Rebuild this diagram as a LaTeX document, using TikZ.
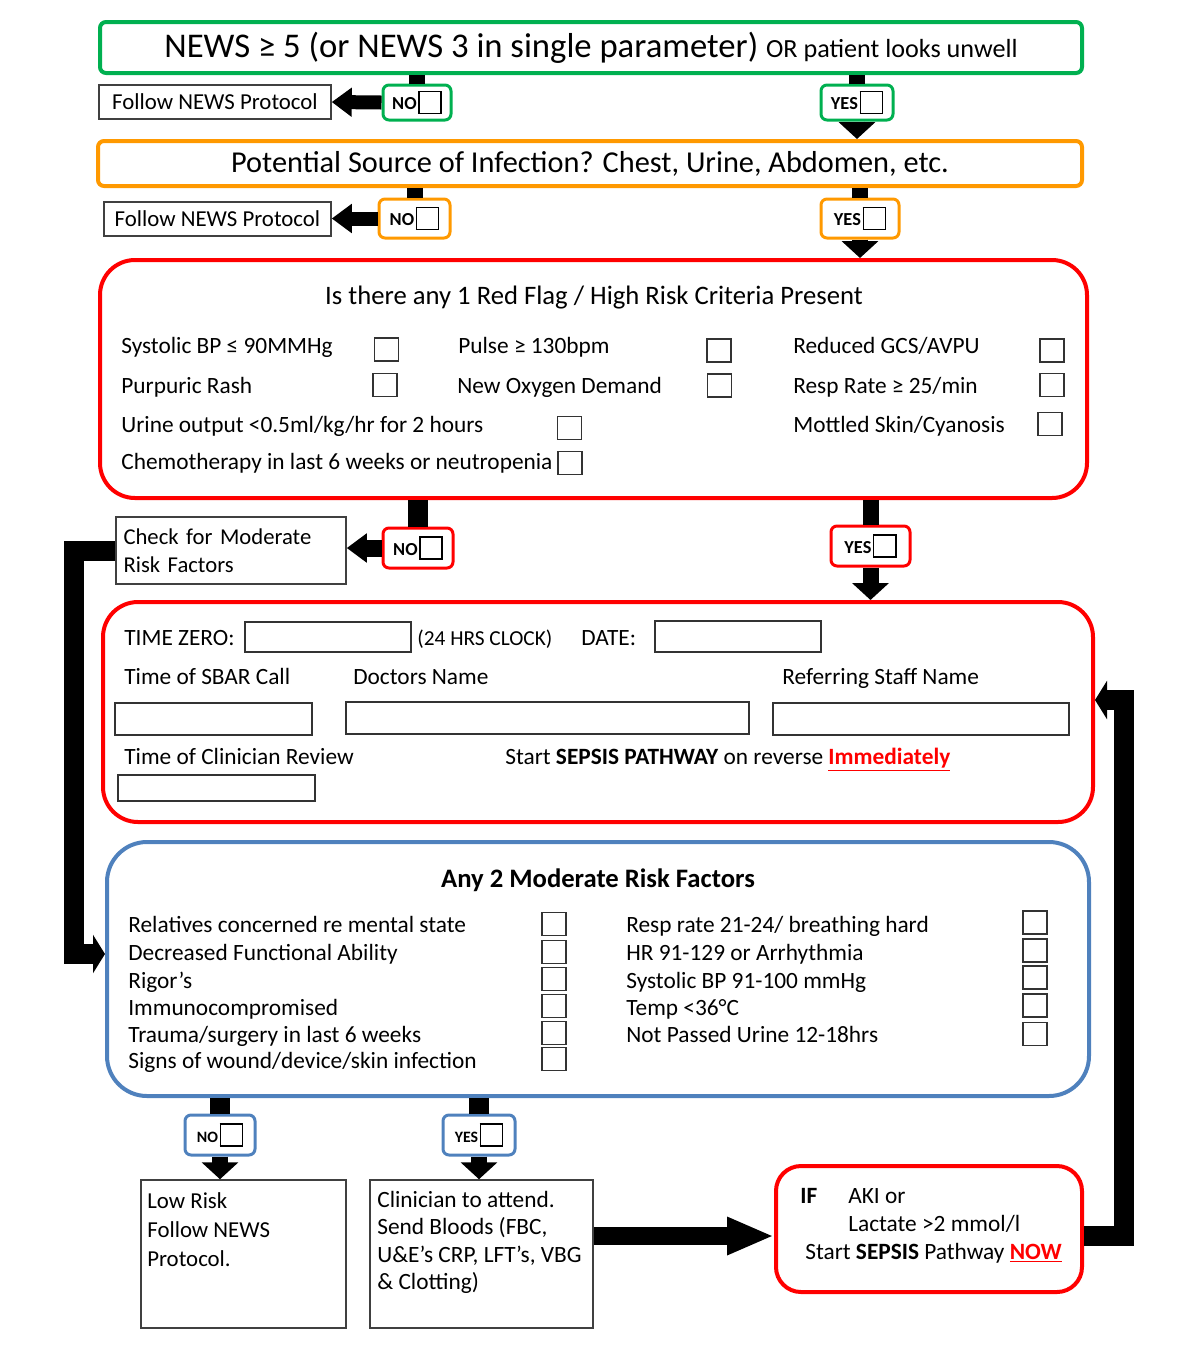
\documentclass[tikz,border=0pt]{standalone}
\usepackage{fontspec}
\setmainfont{Carlito}
\usetikzlibrary{arrows.meta, positioning}

\definecolor{newsgreen}{RGB}{0,176,80}
\definecolor{sourceorange}{RGB}{255,153,0}
\definecolor{flagred}{RGB}{255,0,0}
\definecolor{riskblue}{RGB}{79,129,189}

\newcommand{\optbox}{{\fboxsep=0pt\fboxrule=0.8pt\raisebox{-2pt}{\fbox{\rule{0pt}{12.5pt}\hspace{12.5pt}}}}}

\begin{document}
\begin{tikzpicture}[
    x=0.6pt, y=-0.6pt,
    font=\fontsize{14}{16.8}\selectfont,
    size/.style 2 args={minimum width=#1*0.6pt, minimum height=#2*0.6pt},
    panel/.style={draw=#1, line width=2.4pt, inner sep=0pt},
    tag/.style={draw=#1, line width=1.8pt, rounded corners=3.6pt, inner sep=0pt, font=\bfseries\fontsize{11}{13}\selectfont},
    plainbox/.style={draw=black!75, line width=0.9pt, inner sep=0pt},
    tick/.style={draw=black!80, line width=0.9pt, size={24}{23}, inner sep=0pt},
    field/.style={draw=black!80, line width=0.9pt, inner sep=0pt},
    item/.style={anchor=mid west, inner sep=0pt, yshift=-2pt},
    stem/.style={line width=#1},
    sidearrow/.style={line width=8.4pt, -{Triangle[length=12pt, width=16.8pt]}},
    downarrow/.style={line width=9.6pt, -{Triangle[length=10.2pt, width=21.6pt]}},
    railarrow/.style={line width=12pt, -{Triangle[length=7.2pt, width=22.8pt]}},
    bigarrow/.style={line width=10.8pt, -{Triangle[length=28.2pt, width=21pt]}}
  ]
    \useasboundingbox (0,0) rectangle (1200,1362);

    % trigger
    \node[panel=newsgreen, rounded corners=3.6pt, size={982}{51}] (news) at (591,47.5)
      {\fontsize{20.8}{24}\selectfont NEWS ≥ 5 (or NEWS 3 in single parameter) {\fontsize{15.7}{18}\selectfont OR patient looks unwell}};
    \node[tag=newsgreen, size={68}{35}] (nonews) at (417,102.5) {NO\hspace{1pt}\optbox};
    \node[tag=newsgreen, size={72}{35}] (yesnews) at (857,102.5) {YES\hspace{1pt}\optbox};
    \node[plainbox, size={232}{34}, font=\fontsize{13.7}{16}\selectfont] (follownews) at (215,102) {Follow NEWS Protocol};

    % source of infection
    \node[panel=sourceorange, rounded corners=3.6pt, size={984}{45}, font=\fontsize{18.2}{21}\selectfont] (source) at (590,163.5)
      {Potential Source of Infection? Chest, Urine, Abdomen, etc.};
    \node[tag=sourceorange, size={71}{39}] (nosource) at (414.5,218.5) {NO\hspace{1pt}\optbox};
    \node[tag=sourceorange, size={78}{39}] (yessource) at (860,218.5) {YES\hspace{1pt}\optbox};
    \node[plainbox, size={227}{34}, font=\fontsize{13.7}{16}\selectfont] (followsource) at (217.5,219) {Follow NEWS Protocol};

    % red flags
    \node[panel=flagred, rounded corners=21pt, size={987}{238}] (redflag) at (593.5,379) {};
    \node[font=\fontsize{16}{19}\selectfont] (flagtitle) at (594,298) {Is there any 1 Red Flag / High Risk Criteria Present};
    \node[item] (sbp) at (121,346) {Systolic BP ≤ 90MMHg};
    \node[item] (pulse) at (458,346) {Pulse ≥ 130bpm};
    \node[item] (gcs) at (793,346) {Reduced GCS/AVPU};
    \node[item] (rash) at (121,386) {Purpuric Rash};
    \node[item] (oxygen) at (457,386) {New Oxygen Demand};
    \node[item] (resp) at (793,386) {Resp Rate ≥ 25/min};
    \node[item] (urine) at (121,425) {Urine output <0.5ml/kg/hr for 2 hours};
    \node[item] (mottled) at (793,425) {Mottled Skin/Cyanosis};
    \node[item] (chemo) at (121,462) {Chemotherapy in last 6 weeks or neutropenia};
    \foreach \n/\x/\y in {sbpbox/386.5/349.5, pulsebox/719/350.5, gcsbox/1052/350.5,
                          rashbox/385/385, oxygenbox/719.5/385.5, respbox/1052/385,
                          urinebox/569.5/428, mottledbox/1050/424, chemobox/570/463}
      \node[tick] (\n) at (\x,\y) {};

    \node[tag=flagred, size={70}{40}] (noflag) at (418,548) {NO\hspace{1pt}\optbox};
    \node[tag=flagred, size={79}{40}] (yesflag) at (870.5,546) {YES\hspace{1pt}\optbox};
    \node[plainbox, size={230}{67}, text width=129pt, align=left, font=\fontsize{13.6}{16.8}\selectfont] (checkmod) at (231,550.5)
      {Check for Moderate\\Risk Factors};

    % time zero form
    \node[panel=flagred, rounded corners=21pt, size={990}{220}] (timezero) at (598,712) {};
    \node[item] (zerolabel) at (124,638) {TIME ZERO:};
    \node[field, size={166}{30}] (zerofield) at (328,637) {};
    \node[item, font=\fontsize{12.8}{15}\selectfont] (clock) at (417,638) {(24 HRS CLOCK)};
    \node[item] (datelabel) at (581,638) {DATE:};
    \node[field, size={166}{31}] (datefield) at (738,636.5) {};
    \node[item] (sbarlabel) at (124,677) {Time of SBAR Call};
    \node[item] (doctorlabel) at (353,677) {Doctors Name};
    \node[item] (stafflabel) at (782,677) {Referring Staff Name};
    \node[field, size={197}{32}] (sbarfield) at (213.5,719) {};
    \node[field, size={403}{32}] (doctorfield) at (547.5,718) {};
    \node[field, size={296}{32}] (stafffield) at (921,719) {};
    \node[item] (reviewlabel) at (124,757) {Time of Clinician Review};
    \node[item] (startnote) at (505,757)
      {Start \textbf{SEPSIS PATHWAY} on reverse \textcolor{flagred}{\textbf{\underline{Immediately}}}};
    \node[field, size={197}{26}] (reviewfield) at (216.5,788) {};

    % moderate risk
    \node[panel=riskblue, rounded corners=24pt, size={982}{254}] (moderate) at (598,969) {};
    \node[font=\bfseries\fontsize{16}{19}\selectfont] (modtitle) at (598,880) {Any 2 Moderate Risk Factors};
    \node[item] (relatives) at (128,925) {Relatives concerned re mental state};
    \node[item] (function) at (128,953) {Decreased Functional Ability};
    \node[item] (rigors) at (128,981) {Rigor's};
    \node[item] (immuno) at (128,1008) {Immunocompromised};
    \node[item] (trauma) at (128,1035) {Trauma/surgery in last 6 weeks};
    \node[item] (wound) at (128,1061) {Signs of wound/device/skin infection};
    \node[item] (rrate) at (626,925) {Resp rate 21-24/ breathing hard};
    \node[item] (hrate) at (626,953) {HR 91-129 or Arrhythmia};
    \node[item] (lowbp) at (626,981) {Systolic BP 91-100 mmHg};
    \node[item] (temp) at (626,1008) {Temp <36°C};
    \node[item] (nourine) at (626,1035) {Not Passed Urine 12-18hrs};
    \foreach \n/\y in {relativesbox/924, functionbox/952, rigorsbox/979, immunobox/1006, traumabox/1033, woundbox/1059}
      \node[tick] (\n) at (554,\y) {};
    \foreach \n/\y in {rratebox/922.5, hratebox/950.5, lowbpbox/977.5, tempbox/1005.5, nourinebox/1034}
      \node[tick] (\n) at (1035,\y) {};

    \node[tag=riskblue, size={70}{40}, font=\bfseries\fontsize{9.5}{11}\selectfont] (nomod) at (220,1135) {NO\hspace{1pt}\optbox};
    \node[tag=riskblue, size={72}{40}, font=\bfseries\fontsize{9.5}{11}\selectfont] (yesmod) at (479,1135) {YES\hspace{1pt}\optbox};

    % outcomes
    \node[plainbox, size={205}{148}] (lowrisk) at (243.5,1254) {};
    \node[anchor=north west, inner sep=0pt, align=left, font=\fontsize{13.7}{17.4}\selectfont] (lowtext) at (147,1192)
      {Low Risk\\Follow NEWS\\Protocol.};
    \node[plainbox, size={223}{148}] (clinician) at (481.5,1254) {};
    \node[anchor=north west, inner sep=0pt, align=left, font=\fontsize{14}{16.4}\selectfont] (clintext) at (377,1191)
      {Clinician to attend.\\Send Bloods (FBC,\\U\&E’s CRP, LFT’s, VBG\\\& Clotting)};
    \node[panel=flagred, rounded corners=15pt, size={306}{126}] (akibox) at (929,1229) {};
    \node[item] (iflabel) at (800,1196) {\textbf{IF}};
    \node[item] (aki) at (848,1196) {AKI or};
    \node[item] (lactate) at (848,1224) {Lactate >2 mmol/l};
    \node[item] (startnow) at (805,1252) {Start \textbf{SEPSIS} Pathway \textcolor{flagred}{\textbf{\underline{NOW}}}};

    % connectors
    \draw[stem=9.6pt] (news.south -| nonews.north) -- (nonews.north);
    \draw[stem=9.6pt] (news.south -| yesnews.north) -- (yesnews.north);
    \draw[sidearrow] (nonews.west) -- (follownews.east);
    \draw[downarrow] (yesnews.south) -- (yesnews.south |- source.north);

    \draw[stem=9.6pt] (source.south -| nosource.north) -- (nosource.north);
    \draw[stem=9.6pt] (source.south -| yessource.north) -- (yessource.north);
    \draw[sidearrow] (nosource.west) -- (nosource.west -| followsource.east);
    \draw[downarrow] (yessource.south) -- (yessource.south |- redflag.north);

    \draw[stem=12pt] (redflag.south -| noflag.north) -- (noflag.north);
    \draw[stem=9.6pt] (redflag.south -| yesflag.north) -- (yesflag.north);
    \draw[sidearrow, line width=10.2pt] (noflag.west) -- (noflag.west -| checkmod.east);
    \draw[downarrow] (yesflag.south) -- (yesflag.south |- timezero.north);

    \coordinate (leftrail) at (73.5,954);
    \draw[railarrow] (checkmod.west) -| (leftrail) -- (leftrail -| moderate.west);

    \draw[stem=12pt] (moderate.south -| nomod.north) -- (nomod.north);
    \draw[stem=12pt] (moderate.south -| yesmod.north) -- (yesmod.north);
    \draw[downarrow] (nomod.south) -- (nomod.south |- lowrisk.north);
    \draw[downarrow] (yesmod.south) -- (yesmod.south |- clinician.north);

    \coordinate (akiin) at ([yshift=-4.2pt]akibox.west);
    \coordinate (akiout) at ([yshift=-4.2pt]akibox.east);
    \draw[bigarrow] (clinician.east |- akiin) -- (akiin);

    \coordinate (rightrail) at (1123.5,700);
    \draw[railarrow] (akiout) -| (rightrail) -- (rightrail -| timezero.east);
  \end{tikzpicture}
\end{document}
